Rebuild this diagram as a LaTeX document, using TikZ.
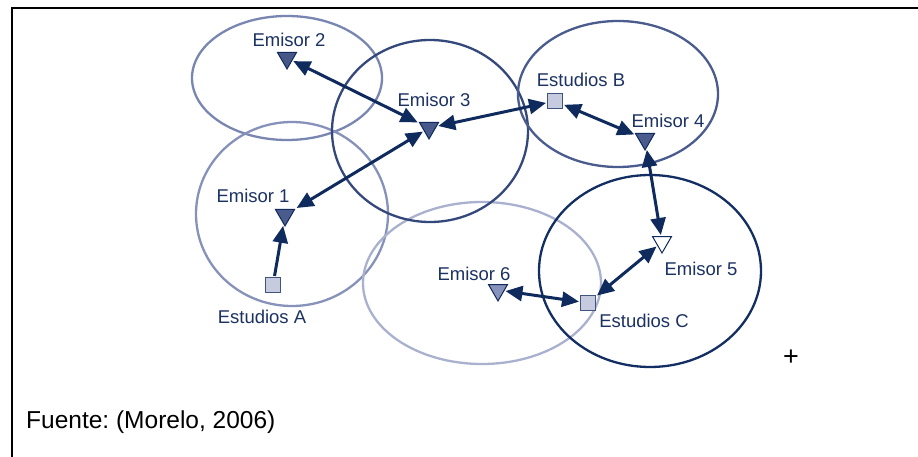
\documentclass[tikz,border=0pt]{standalone}
\usepackage{fontspec}
\setmainfont{Liberation Sans}
\usetikzlibrary{arrows.meta,shapes.geometric}

\definecolor{navy}{HTML}{0F2B5E}
\definecolor{labelblue}{HTML}{1C3263}
\definecolor{ringA}{HTML}{7A86B2}
\definecolor{ringB}{HTML}{34487C}
\definecolor{ringC}{HTML}{8792BA}
\definecolor{ringD}{HTML}{4A5B8E}
\definecolor{ringE}{HTML}{132E62}
\definecolor{ringF}{HTML}{A9B1CE}
\definecolor{studiofill}{HTML}{C6CBE0}

\tikzset{
  ring/.style={line width=2.3pt},
  emitter/.style={regular polygon, regular polygon sides=3, shape border rotate=180,
    minimum size=22pt, inner sep=0pt, draw=navy, line width=1pt, outer sep=1.5pt},
  studio/.style={rectangle, minimum size=15pt, inner sep=0pt, draw=navy!80,
    fill=studiofill, line width=1pt, outer sep=1.5pt},
  lbl/.style={font=\fontsize{18.5}{20}\selectfont, text=labelblue, inner sep=0pt, anchor=base},
  link/.style={draw=navy, line width=3pt, {Triangle[length=17pt,width=15pt]}-{Triangle[length=17pt,width=15pt]}},
  onelink/.style={draw=navy, line width=3pt, -{Triangle[length=17pt,width=15pt]}}
}

\begin{document}
\frenchspacing
\begin{tikzpicture}[x=1pt,y=-1pt]
\useasboundingbox (0,0) rectangle (918,457);
\fill[white] (0,0) rectangle (918,457);

% frame lines
\draw[line width=2pt] (12,457) -- (12,8.5) -- (918,8.5);

% coverage areas
\draw[ring, ringA] (287,78) ellipse [x radius=95, y radius=62];
\draw[ring, ringC] (292,214) ellipse [x radius=96, y radius=92];
\draw[ring, ringF] (482,283) ellipse [x radius=119, y radius=81];
\draw[ring, ringB] (430,131) ellipse [x radius=98, y radius=91];
\draw[ring, ringD] (618,94) ellipse [x radius=100, y radius=73];
\draw[ring, ringE] (650,271) ellipse [x radius=111, y radius=96];

% stations
\node[emitter, fill=ringD!95!black] (e2) at (287,58) {};
\node[emitter, fill=ringB!90] (e3) at (429,128) {};
\node[emitter, fill=ringD] (e1) at (285,215) {};
\node[emitter, fill=ringD] (e4) at (645,139) {};
\node[emitter, fill=white] (e5) at (662,242) {};
\node[emitter, fill=ringA!90] (e6) at (498,290) {};
\node[studio] (sa) at (273,285) {};
\node[studio] (sb) at (555,101) {};
\node[studio] (sc) at (588,303) {};

% labels
\node[lbl] (le2) at (289,47) {Emisor 2};
\node[lbl] (le3) at (434,107) {Emisor 3};
\node[lbl] (lsb) at (581,87) {Estudios B};
\node[lbl] (le4) at (668,128) {Emisor 4};
\node[lbl] (le1) at (253,203) {Emisor 1};
\node[lbl] (lsa) at (262,323) {Estudios A};
\node[lbl] (le6) at (474,280) {Emisor 6};
\node[lbl] (le5) at (701,275) {Emisor 5};
\node[lbl] (lsc) at (644,327) {Estudios C};

% links
\draw[link] (e2) -- (e3);
\draw[link] (e3) -- (sb);
\draw[link] (e1) -- (e3);
\draw[onelink] (sa) -- (e1);
\draw[link] (sb) -- (e4);
\draw[link] (e4) -- (e5);
\draw[link] (e5) -- (sc);
\draw[link] (e6) -- (sc);

% cross mark
\node[font=\fontsize{27}{27}\selectfont, inner sep=0pt] (plus) at (791,358) {+};

% source note
\node[font=\fontsize{24.5}{27}\selectfont, anchor=base west, inner sep=0pt] (src) at (26,428) {Fuente: (Morelo, 2006)};
\end{tikzpicture}
\end{document}
